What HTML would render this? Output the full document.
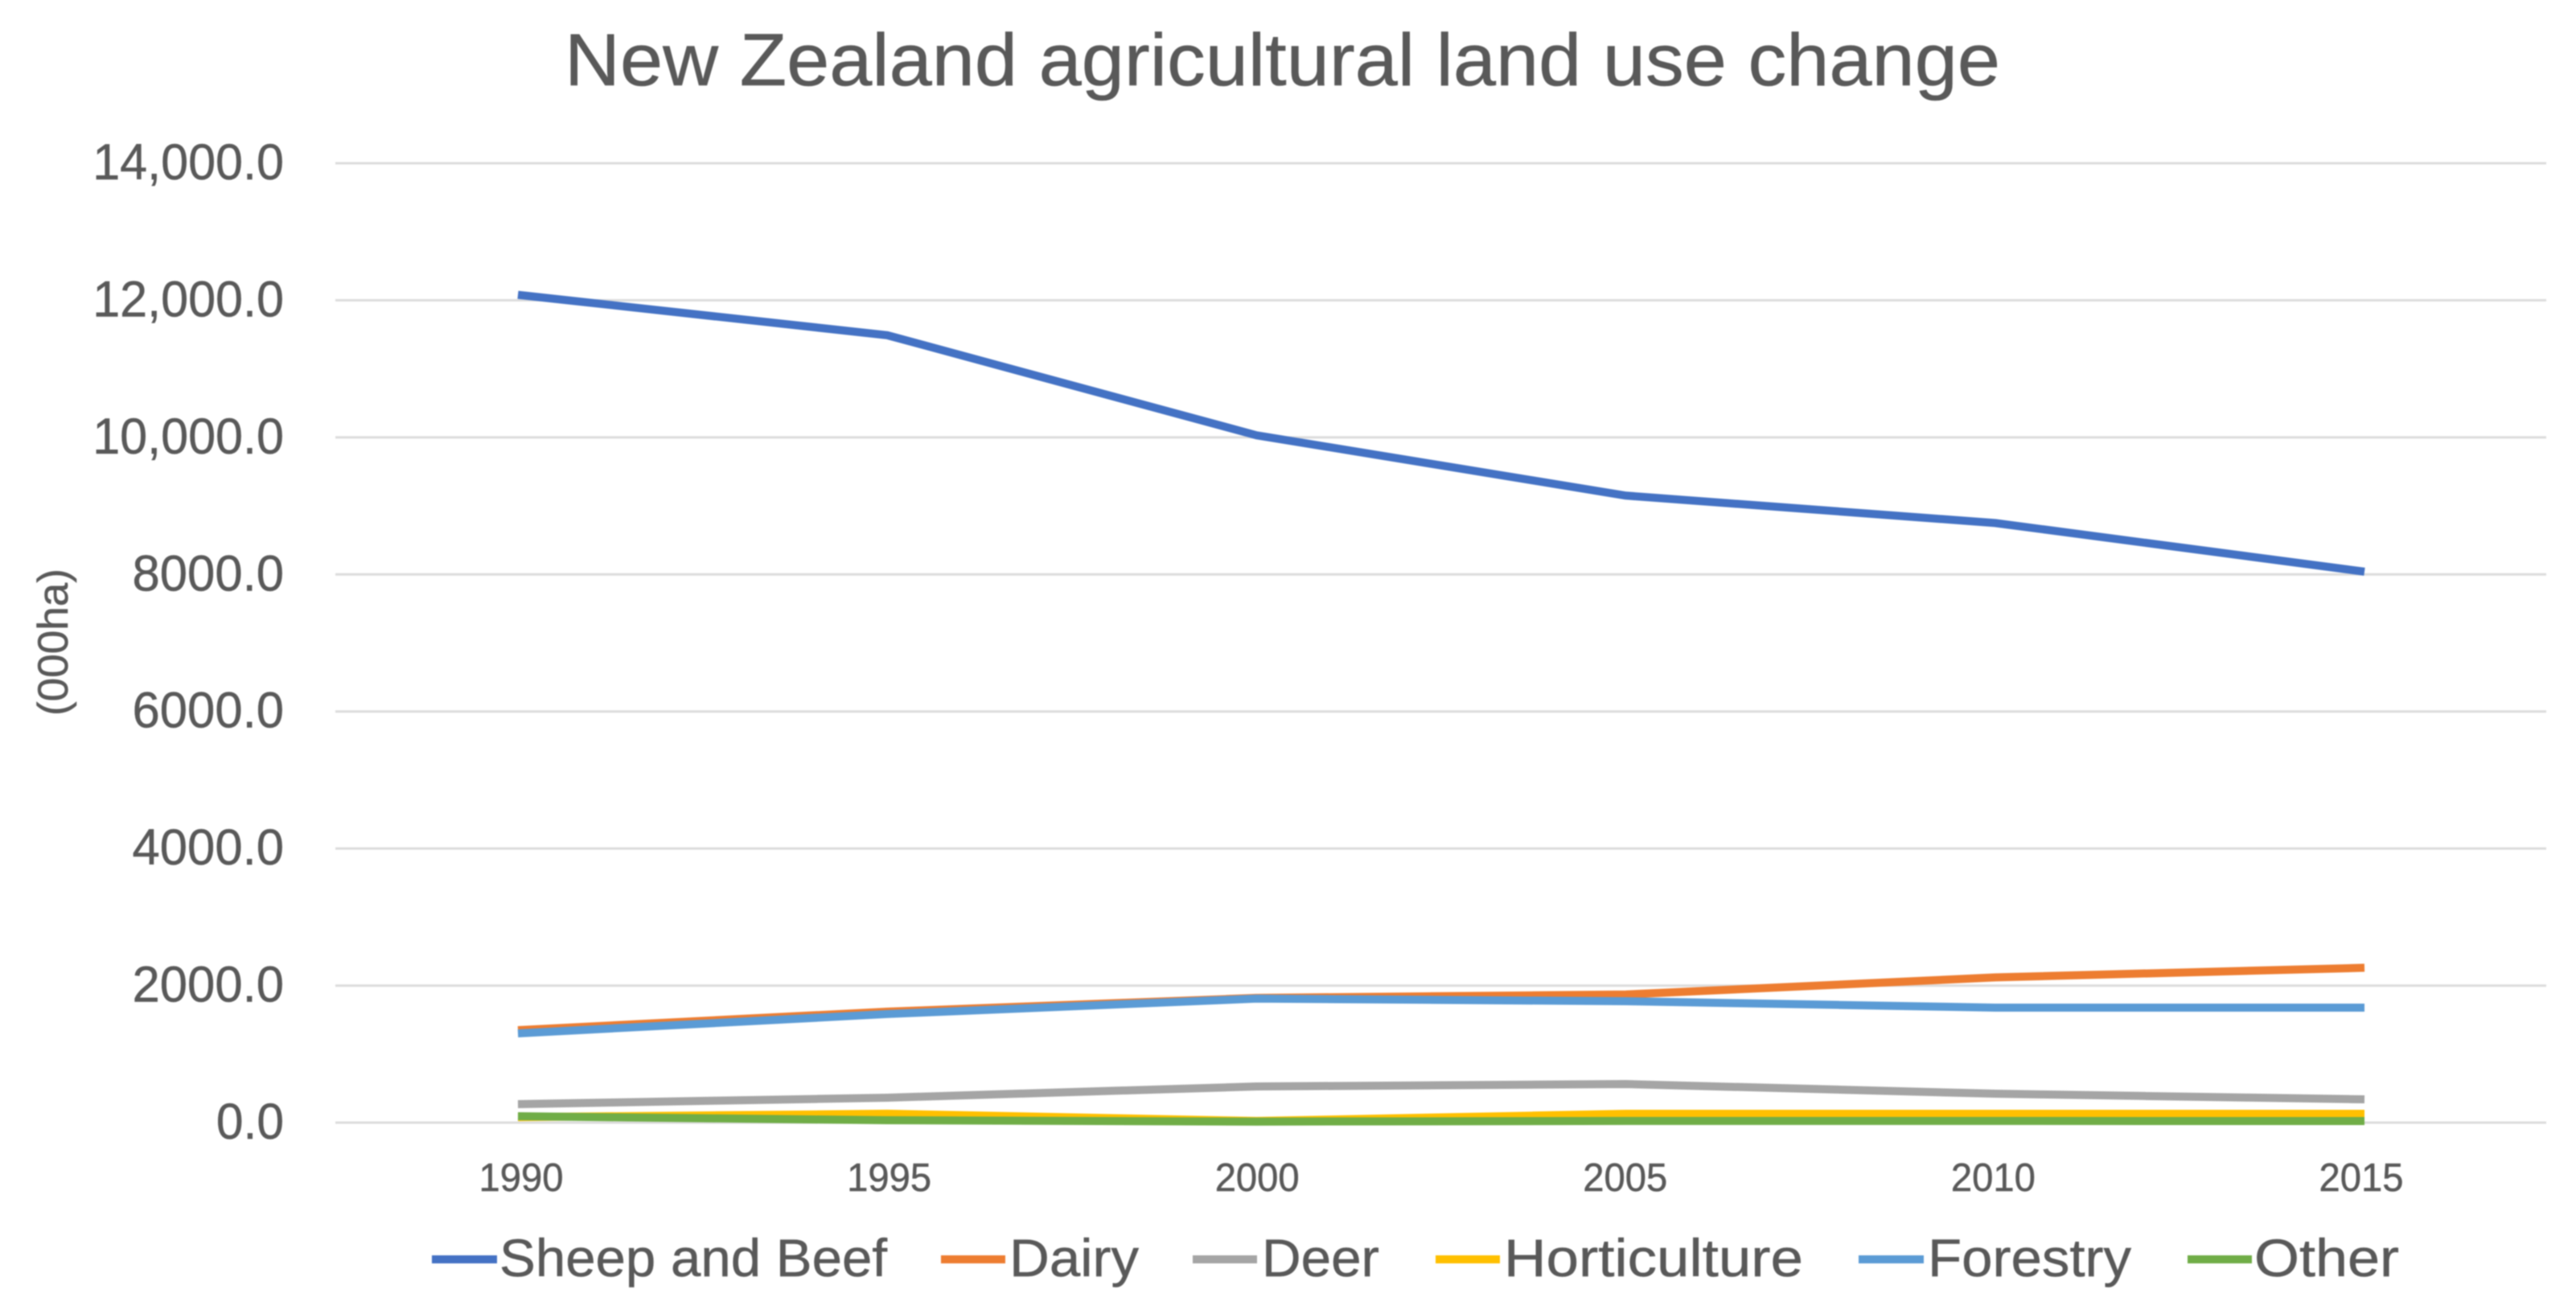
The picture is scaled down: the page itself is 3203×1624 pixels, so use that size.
<!DOCTYPE html>
<html lang="en">
<head>
<meta charset="utf-8">
<title>New Zealand agricultural land use change</title>
<style>
  html, body { margin: 0; padding: 0; background: #ffffff; }
  body { width: 3203px; height: 1624px; overflow: hidden; }
  svg { display: block; filter: blur(0.7px); }
  text { font-family: "Liberation Sans", sans-serif; fill: #595959; stroke: #595959; stroke-width: 0.5px; }
</style>
</head>
<body>
<svg id="chart" xmlns="http://www.w3.org/2000/svg" width="3203" height="1624" viewBox="0 0 3203 1624">
  <rect x="0" y="0" width="3203" height="1624" fill="#ffffff"/>
  <text x="702" y="106" font-size="92" textLength="1785" lengthAdjust="spacingAndGlyphs">New Zealand agricultural land use change</text>
  <text transform="translate(84,890) rotate(-90)" font-size="53" textLength="183" lengthAdjust="spacingAndGlyphs">(000ha)</text>
  <g id="grid"></g>
  <g id="y-ticks"></g>
  <g id="x-ticks"></g>
  <g id="series"></g>
  <g font-size="66">
    <g>
      <line x1="537" x2="618" y1="1566" y2="1566" stroke="#4472c4" stroke-width="10"/>
      <text x="621" y="1587" font-size="66" textLength="482" lengthAdjust="spacingAndGlyphs">Sheep and Beef</text>
    </g>
    <g>
      <line x1="1170" x2="1250" y1="1566" y2="1566" stroke="#ed7d31" stroke-width="10"/>
      <text x="1255" y="1587" font-size="66" textLength="161" lengthAdjust="spacingAndGlyphs">Dairy</text>
    </g>
    <g>
      <line x1="1483" x2="1563" y1="1566" y2="1566" stroke="#a5a5a5" stroke-width="10"/>
      <text x="1569" y="1587" font-size="66" textLength="146" lengthAdjust="spacingAndGlyphs">Deer</text>
    </g>
    <g>
      <line x1="1785" x2="1865" y1="1566" y2="1566" stroke="#ffc000" stroke-width="10"/>
      <text x="1870" y="1587" font-size="66" textLength="372" lengthAdjust="spacingAndGlyphs">Horticulture</text>
    </g>
    <g>
      <line x1="2311" x2="2392" y1="1566" y2="1566" stroke="#5b9bd5" stroke-width="10"/>
      <text x="2397" y="1587" font-size="66" textLength="253" lengthAdjust="spacingAndGlyphs">Forestry</text>
    </g>
    <g>
      <line x1="2720" x2="2800" y1="1566" y2="1566" stroke="#70ad47" stroke-width="10"/>
      <text x="2803" y="1587" font-size="66" textLength="180" lengthAdjust="spacingAndGlyphs">Other</text>
    </g>
  </g>
</svg>
<script>
const years = ['1990', '1995', '2000', '2005', '2010', '2015'];
const yTickValues = [14000, 12000, 10000, 8000, 6000, 4000, 2000, 0];
const yTickLabels = ['14,000.0', '12,000.0', '10,000.0', '8000.0', '6000.0', '4000.0', '2000.0', '0.0'];

const sheepAndBeef = [12080, 11490, 10030, 9150, 8750, 8040];
const dairy = [1350, 1620, 1820, 1870, 2120, 2260];
const deer = [270, 364, 528, 563, 422, 340];
const horticulture = [80, 130, 25, 129, 129, 129];
const forestry = [1303, 1585, 1810, 1772, 1678, 1678];
const other = [94, 35, 15, 25, 25, 23];

const NS = 'http://www.w3.org/2000/svg';
const plotLeft = 417, plotRight = 3166;
function yScale(v) { return 1396 - v * (170.43 / 2000); }
function xScale(i) { return 644 + i * 459.2; }
function xLabelScale(i) { return 648 + i * 457.6; }

const gridGroup = document.getElementById('grid');
const yGroup = document.getElementById('y-ticks');
yTickValues.forEach(function (v, i) {
  const line = document.createElementNS(NS, 'line');
  
  
  line.setAttribute('x1', plotLeft);
  line.setAttribute('x2', plotRight);
  line.setAttribute('y1', yScale(v));
  line.setAttribute('y2', yScale(v));
  line.setAttribute('stroke', '#dcdcdc');
  line.setAttribute('stroke-width', '3');
  gridGroup.appendChild(line);

  const label = yTickLabels[i];
  const digits = label.replace(/[^0-9]/g, '').length;
  const seps = label.length - digits;
  const t = document.createElementNS(NS, 'text');
  
  
  t.setAttribute('x', 353);
  t.setAttribute('y', yScale(v) + 20);
  t.setAttribute('font-size', '63');
  t.setAttribute('text-anchor', 'end');
  t.setAttribute('textLength', digits * 34.8 + seps * 14.5);
  t.setAttribute('lengthAdjust', 'spacingAndGlyphs');
  t.textContent = label;
  yGroup.appendChild(t);
});

const xGroup = document.getElementById('x-ticks');
years.forEach(function (y, i) {
  const t = document.createElementNS(NS, 'text');
  
  
  t.setAttribute('x', xLabelScale(i));
  t.setAttribute('y', 1481);
  t.setAttribute('font-size', '49');
  t.setAttribute('text-anchor', 'middle');
  t.setAttribute('textLength', '105');
  t.setAttribute('lengthAdjust', 'spacingAndGlyphs');
  t.textContent = y;
  xGroup.appendChild(t);
});

const seriesGroup = document.getElementById('series');
function drawSeries(slug, values, color) {
  const pts = values.map(function (v, i) { return xScale(i) + ',' + yScale(v); }).join(' ');
  const el = document.createElementNS(NS, 'polyline');
  
  
  el.setAttribute('points', pts);
  el.setAttribute('fill', 'none');
  el.setAttribute('stroke', color);
  el.setAttribute('stroke-width', '10');
  el.setAttribute('stroke-linejoin', 'round');
  seriesGroup.appendChild(el);
}
drawSeries('sheep-and-beef', sheepAndBeef, '#4472c4');
drawSeries('dairy', dairy, '#ed7d31');
drawSeries('deer', deer, '#a5a5a5');
drawSeries('horticulture', horticulture, '#ffc000');
drawSeries('forestry', forestry, '#5b9bd5');
drawSeries('other', other, '#70ad47');
</script>
</body>
</html>
